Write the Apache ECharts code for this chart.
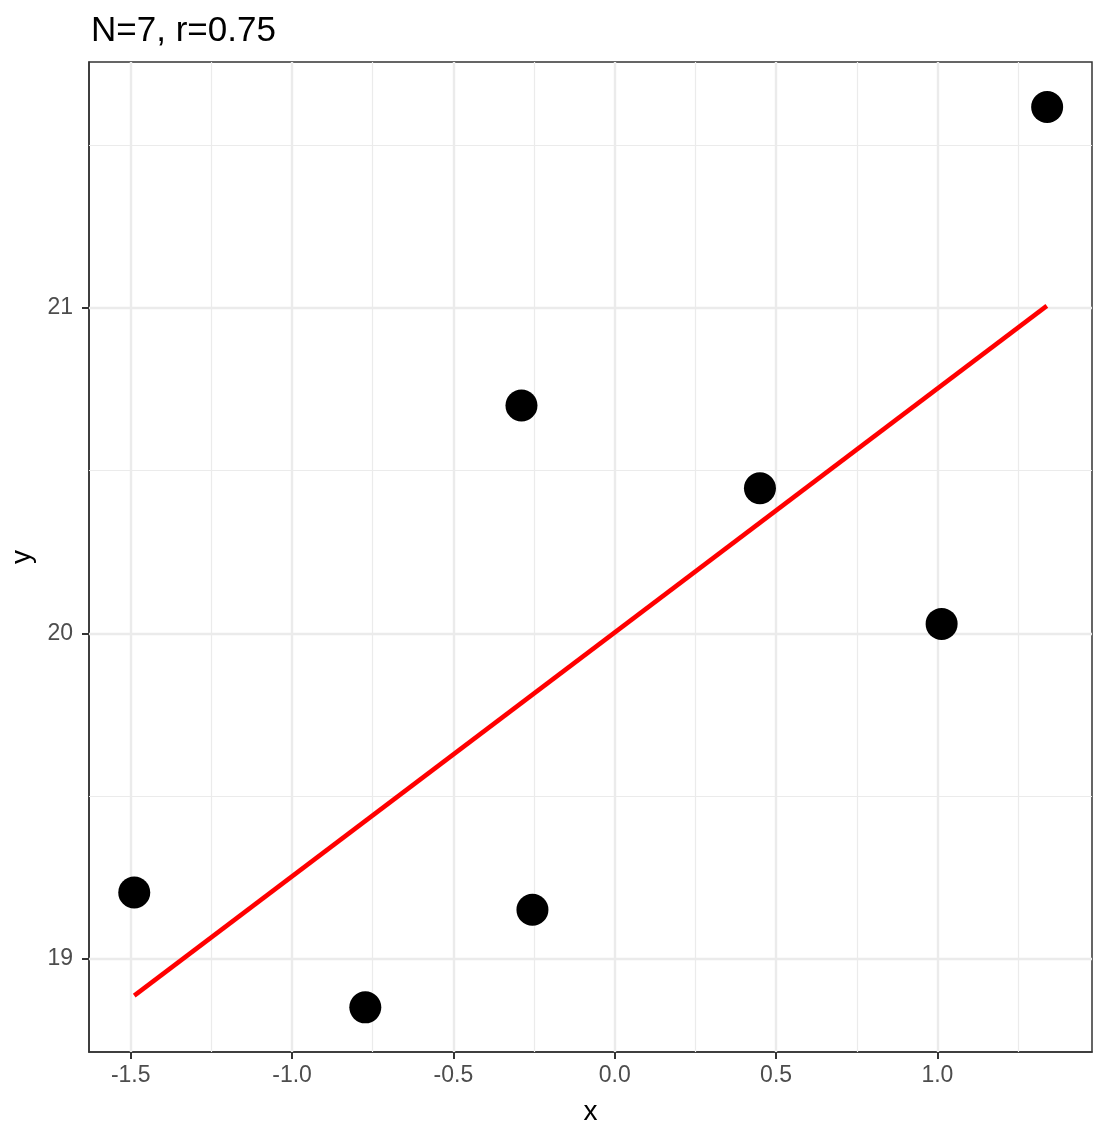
<!DOCTYPE html>
<html>
<head>
<meta charset="utf-8">
<script src="https://cdn.jsdelivr.net/npm/echarts@6/dist/echarts.min.js"></script>
<style>
html,body{margin:0;padding:0;background:#fff;}
#chart{width:1108px;height:1138px;}
</style>
</head>
<body>
<div id="chart"></div>
<script>
// Data
var pointX = [1.340, -0.289, 0.450, 1.013, -1.489, -0.255, -0.773];
var pointY = [21.617, 20.700, 20.446, 20.029, 19.204, 19.151, 18.851];
var fitX = [-1.489, 1.339];
var fitY = [18.887, 21.006];
var xMajorTicks = [-1.5, -1.0, -0.5, 0.0, 0.5, 1.0];
var xMinorTicks = [-1.25, -0.75, -0.25, 0.25, 0.75, 1.25];
var yMajorTicks = [19, 20, 21];
var yMinorTicks = [19.5, 20.5, 21.5];
var titleText = 'N=7, r=0.75';

var FONT = '"Liberation Sans", Arial, Helvetica, sans-serif';
var chart = echarts.init(document.getElementById('chart'), null, {renderer: 'canvas'});

var points = pointX.map(function (x, i) { return [x, pointY[i]]; });
var fit = fitX.map(function (x, i) { return [x, fitY[i]]; });

function gridSeries(axis, vals, width) {
  return {
    type: 'line', data: [], silent: true, z: 1, zlevel: 0,
    markLine: {
      silent: true, symbol: 'none', animation: false,
      label: {show: false}, emphasis: {disabled: true},
      lineStyle: {color: '#EBEBEB', width: width, type: 'solid', opacity: 1},
      data: vals.map(function (v) { var o = {}; o[axis] = v; return o; })
    }
  };
}

var option = {
  animation: false,
  backgroundColor: '#ffffff',
  title: {
    text: titleText,
    left: 86,
    top: 9,
    textStyle: {fontFamily: FONT, fontSize: 35, fontWeight: 'normal', color: '#000'}
  },
  grid: {
    left: 89, top: 62, right: 16, bottom: 86,
    show: true, borderColor: '#333333', borderWidth: 1.5, backgroundColor: 'transparent'
  },
  xAxis: {
    type: 'value',
    min: -1.6292, max: 1.479,
    name: 'x',
    nameLocation: 'middle',
    nameGap: 46,
    nameTextStyle: {fontFamily: FONT, fontSize: 28, color: '#000'},
    axisLine: {show: true, onZero: false, lineStyle: {color: '#333333', width: 1.5}},
    splitLine: {show: false},
    axisTick: {show: true, inside: false, length: 7, customValues: xMajorTicks, lineStyle: {color: '#333333', width: 2}},
    axisLabel: {
      customValues: xMajorTicks,
      margin: 12,
      fontFamily: FONT, fontSize: 23, color: '#4D4D4D',
      formatter: function (v) { return v.toFixed(1); }
    }
  },
  yAxis: {
    type: 'value',
    min: 18.7138, max: 21.7554,
    name: 'y',
    nameLocation: 'middle',
    nameGap: 47,
    nameRotate: 90,
    nameTextStyle: {fontFamily: FONT, fontSize: 28, color: '#000'},
    axisLine: {show: true, onZero: false, lineStyle: {color: '#333333', width: 1.5}},
    splitLine: {show: false},
    axisTick: {show: true, inside: false, length: 7, customValues: yMajorTicks, lineStyle: {color: '#333333', width: 2}},
    axisLabel: {
      customValues: yMajorTicks,
      margin: 16,
      fontFamily: FONT, fontSize: 23, color: '#4D4D4D',
      formatter: function (v) { return String(Math.round(v)); }
    }
  },
  series: [
    gridSeries('xAxis', xMinorTicks, 1.2),
    gridSeries('yAxis', yMinorTicks, 1.2),
    gridSeries('xAxis', xMajorTicks, 2.4),
    gridSeries('yAxis', yMajorTicks, 2.4),
    {
      type: 'scatter', data: points, symbol: 'circle', symbolSize: 32, z: 3, zlevel: 1,
      itemStyle: {color: '#000000', opacity: 1}, silent: true
    },
    {
      type: 'line', data: fit, symbol: 'none', z: 4, zlevel: 1, silent: true,
      lineStyle: {color: '#FF0000', width: 4.5, opacity: 1}
    }
  ]
};
chart.setOption(option);
</script>
</body>
</html>
